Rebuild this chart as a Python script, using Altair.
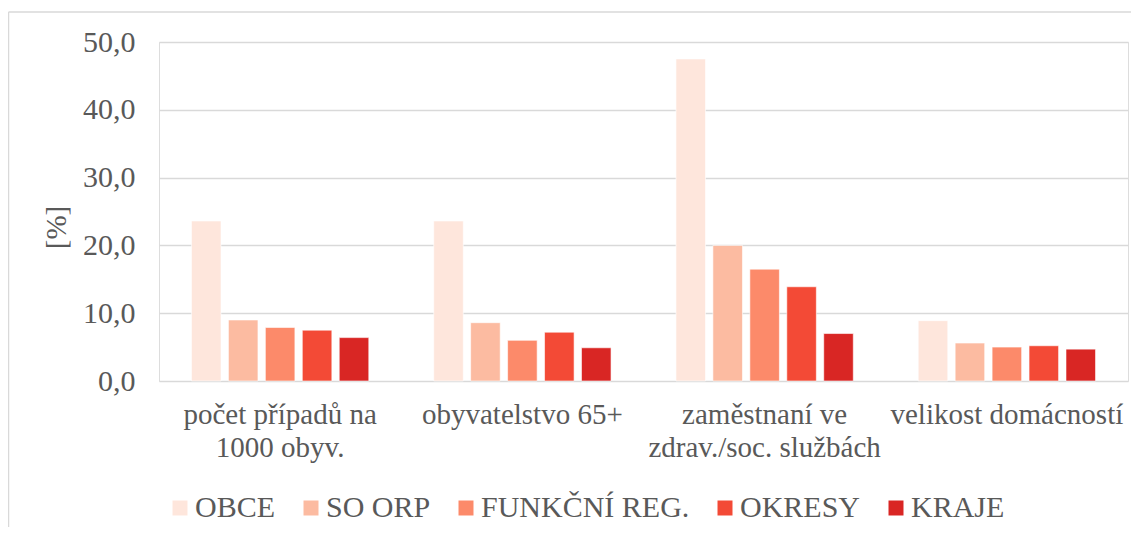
import altair as alt
import pandas as pd

categories = ["počet případů na\n1000 obyv.", "obyvatelstvo 65+", "zaměstnaní ve\nzdrav./soc. službách", "velikost domácností"]
series = ["OBCE", "SO ORP", "FUNKČNÍ REG.", "OKRESY", "KRAJE"]
colors = ["#fee6dc", "#fcbba1", "#fc8a6a", "#f34a36", "#d92624"]
values = {
    "OBCE": [23.6, 23.6, 47.5, 8.9],
    "SO ORP": [9.0, 8.6, 20.0, 5.6],
    "FUNKČNÍ REG.": [7.9, 6.0, 16.5, 5.0],
    "OKRESY": [7.5, 7.2, 13.9, 5.2],
    "KRAJE": [6.4, 4.9, 7.0, 4.7],
}

rows = []
for s in series:
    for c, v in zip(categories, values[s]):
        rows.append({"cat": c, "series": s, "value": v})
df = pd.DataFrame(rows)

FONT = "Liberation Serif"
TXT = "#595959"

bars = alt.Chart(df).mark_bar(stroke="white", strokeWidth=0.6).encode(
    x=alt.X("cat:N", sort=categories, title=None,
            scale=alt.Scale(paddingInner=0.268, paddingOuter=0.134),
            axis=alt.Axis(labelExpr="split(datum.label, '\\n')", labelAngle=0,
                          labelFontSize=29, labelFont=FONT, labelColor=TXT,
                          labelLineHeight=33, labelPadding=19, ticks=False,
                          domain=False, grid=False, labelLimit=400)),
    xOffset=alt.XOffset("series:N", sort=series,
                        scale=alt.Scale(paddingInner=0.2, paddingOuter=0)),
    y=alt.Y("value:Q", title="[%]",
            scale=alt.Scale(domain=[0, 50]),
            axis=alt.Axis(values=[0, 10, 20, 30, 40, 50],
                          labelExpr="replace(format(datum.value, '.1f'), '.', ',')",
                          labelFontSize=30, labelFont=FONT, labelColor=TXT,
                          labelPadding=24, ticks=False, domain=False,
                          gridColor="#d9d9d9", gridWidth=1.5,
                          titleFont=FONT, titleFontSize=29, titleColor=TXT,
                          titleFontWeight="normal", titleX=-103, titleY=185,
                          titleAngle=270, titleBaseline="middle")),
    color=alt.Color("series:N", sort=series,
                    scale=alt.Scale(domain=series, range=colors),
                    legend=alt.Legend(title=None, orient="none", direction="horizontal",
                                      legendX=6, legendY=451,
                                      symbolType="square", symbolSize=225,
                                      symbolStrokeWidth=0, labelFont=FONT,
                                      labelFontSize=30, labelColor=TXT,
                                      labelOffset=0, columnPadding=20,
                                      labelLimit=400)),
)

frame_data = alt.Data(values=[{}])
top_line = alt.Chart(frame_data).mark_rule(color="#d9d9d9", strokeWidth=1.5).encode(
    x=alt.value(-150.5), x2=alt.value(990), y=alt.value(-30))
left_line = alt.Chart(frame_data).mark_rule(color="#d9d9d9", strokeWidth=1.5).encode(
    x=alt.value(-150.5), y=alt.value(-30), y2=alt.value(525))

chart = alt.layer(bars, top_line, left_line).properties(
    width=969, height=339,
    autosize=alt.AutoSizeParams(type="none"),
    padding={"left": 151, "top": 34, "right": 3, "bottom": 146},
).configure_view(stroke=None).configure(background="white")

chart.save("out.html", embed_options={"renderer": "svg", "actions": False})
